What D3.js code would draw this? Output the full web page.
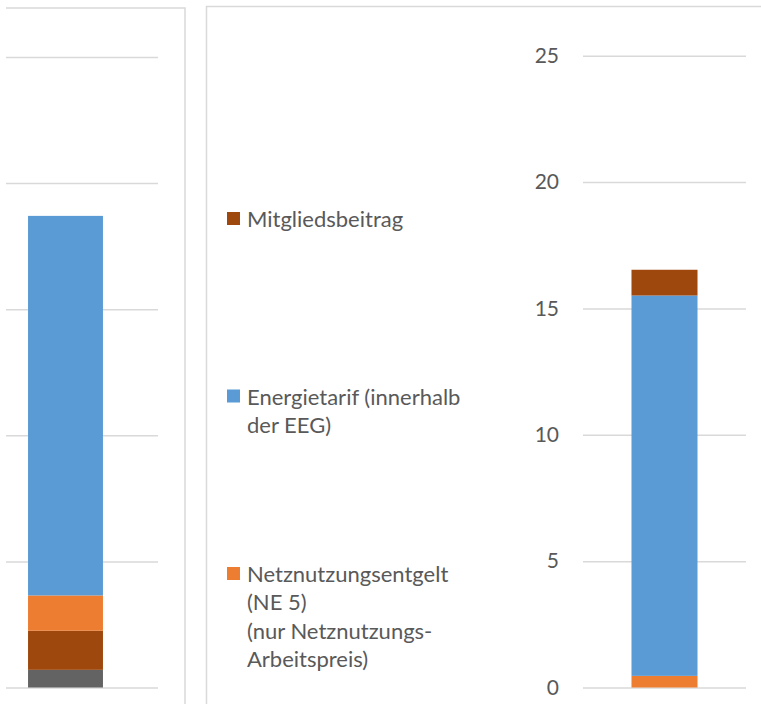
<!DOCTYPE html>
<html>
<head>
<meta charset="utf-8">
<script src="https://cdn.jsdelivr.net/npm/d3@7"></script>
<style>
  body { margin: 0; background: #fff; }
  text { font-family: Lato, "Noto Sans", sans-serif; fill: #595959; }
</style>
</head>
<body>
<div id="chart"></div>
<script>
// data (ct/kWh)
var leftKeys = ["Sonstiges", "Mitgliedsbeitrag", "Netznutzungsentgelt", "Energietarif"];
var leftValues = [0.7, 1.55, 1.4, 15.05];
var rightKeys = ["Netznutzungsentgelt", "Energietarif", "Mitgliedsbeitrag"];
var rightValues = [0.46, 15.05, 1.02];
var yTicks = [0, 5, 10, 15, 20, 25];

var legendKeys = ["Mitgliedsbeitrag", "Energietarif", "Netznutzungsentgelt"];
var legendLines = [
    ["Mitgliedsbeitrag"],
    ["Energietarif (innerhalb", "der EEG)"],
    ["Netznutzungsentgelt", "(NE 5)", "(nur Netznutzungs-", "Arbeitspreis)"]
];

var colors = {
    "Sonstiges": "#636363",
    "Mitgliedsbeitrag": "#9E480E",
    "Netznutzungsentgelt": "#ED7D31",
    "Energietarif": "#5B9BD5"
};

var width = 761;
var height = 704;

var svg = d3
    .select("#chart")
    .append("svg")
    .attr("width", width)
    .attr("height", height);

svg.append("rect").attr("width", width).attr("height", height).attr("fill", "#fff");

// chart frames (both cut off by the screenshot)
svg.append("path")
    .attr("d", "M6,8H185V704")
    .attr("fill", "none")
    .attr("stroke", "#d9d9d9")
    .attr("stroke-width", 1.5);
svg.append("path")
    .attr("d", "M206.5,704V6.5H761")
    .attr("fill", "none")
    .attr("stroke", "#d9d9d9")
    .attr("stroke-width", 1.5);

// one stacked column, grid and optional tick labels
function drawPanel(keys, values, plotX0, plotX1, gridX0, yTop, showLabels) {
    var row = {};
    keys.forEach(function(k, i) { row[k] = values[i]; });
    var stacked = d3.stack().keys(keys)([row]);

    var y = d3.scaleLinear().domain([0, 25]).range([687.5, yTop]);
    var x = d3.scaleBand().domain(["a"]).range([plotX0, plotX1]).padding(0.4235);

    var g = svg.append("g");

    g.append("g")
        .attr("transform", "translate(" + gridX0 + ",0)")
        .call(d3.axisLeft(y).tickValues(yTicks).tickSize(-(plotX1 - gridX0)).tickFormat(""))
        .call(function(a) {
            a.select(".domain").remove();
            a.selectAll("line").attr("stroke", "#d9d9d9").attr("stroke-width", 1.5);
        });

    if (showLabels) {
        g.append("g")
            .attr("transform", "translate(" + gridX0 + ",0)")
            .call(d3.axisLeft(y).tickValues(yTicks).tickSize(0).tickPadding(24))
            .call(function(a) {
                a.select(".domain").remove();
                a.selectAll("text")
                    .attr("font-size", 21)
                    .attr("fill", "#595959")
                    .style("font-family", "Lato, sans-serif");
            });
    }

    g.selectAll("rect.seg")
        .data(stacked)
        .enter()
        .append("rect")
        .attr("class", "seg")
        .attr("x", x("a"))
        .attr("width", x.bandwidth())
        .attr("y", function(d) { return y(d[0][1]); })
        .attr("height", function(d) { return y(d[0][0]) - y(d[0][1]); })
        .attr("fill", function(d) { return colors[d.key]; });
}

drawPanel(leftKeys, leftValues, -27, 158, 6, 57, false);
drawPanel(rightKeys, rightValues, 583, 746, 583, 55.7, true);

// legend
var legend = svg.append("g").attr("transform", "translate(227,0)");
legendKeys.forEach(function(k, i) {
    var base = 227 + 177.5 * i;
    legend.append("rect")
        .attr("x", 0)
        .attr("y", base - 15)
        .attr("width", 13)
        .attr("height", 13)
        .attr("fill", colors[k]);
    var t = legend.append("text")
        .attr("x", 20)
        .attr("y", base)
        .attr("font-size", 22);
    legendLines[i].forEach(function(line, j) {
        t.append("tspan").attr("x", 20).attr("y", base + j * 28.4).text(line);
    });
});
</script>
</body>
</html>
